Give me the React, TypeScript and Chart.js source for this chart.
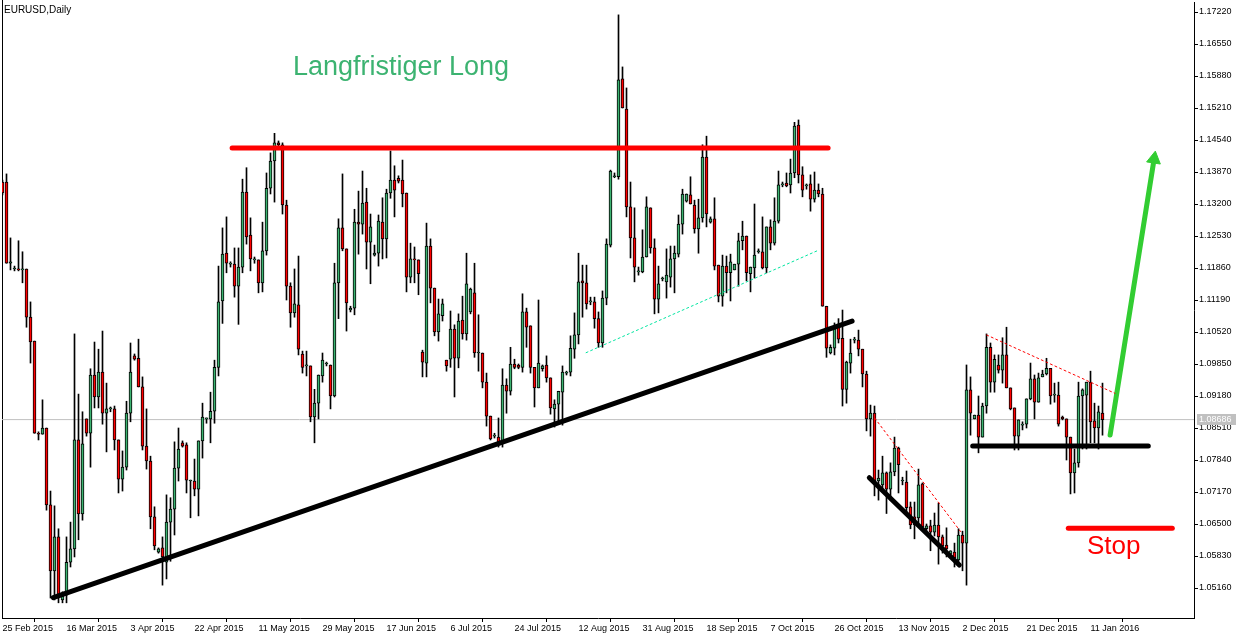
import React, { useEffect, useRef } from 'react';
import { Chart, registerables } from 'chart.js';

Chart.register(...registerables);

// ---- Daily EURUSD candles (bar 0 = 25 Feb 2015, one bar per trading day incl. Sunday bars) ----
const opens = [
  1.1366, 1.1366, 1.1196, 1.1184, 1.1184, 1.1182, 1.1184, 1.1083, 1.1033, 1.0840,
  1.0838, 1.0851, 1.0690, 1.0552, 1.0623, 1.0491, 1.0501, 1.0570, 1.0598, 1.0826,
  1.0671, 1.0870, 1.0840, 1.0962, 1.0916, 1.0968, 1.0882, 1.0891, 1.0891, 1.0826,
  1.0744, 1.0769, 1.0882, 1.1002, 1.0997, 1.0937, 1.0813, 1.0782, 1.0665, 1.0591,
  1.0600, 1.0570, 1.0654, 1.0681, 1.0767, 1.0820, 1.0816, 1.0740, 1.0740, 1.0723,
  1.0824, 1.0870, 1.0870, 1.0886, 1.0978, 1.1117, 1.1217, 1.1194, 1.1194, 1.1148,
  1.1188, 1.1345, 1.1255, 1.1203, 1.1203, 1.1155, 1.1222, 1.1353, 1.1410, 1.1448,
  1.1444, 1.1318, 1.1148, 1.1092, 1.1109, 1.1006, 1.0981, 1.0981, 1.0874, 1.0903,
  1.0960, 1.0985, 1.0983, 1.0918, 1.1155, 1.1270, 1.1226, 1.1098, 1.1102, 1.1282,
  1.1278, 1.1324, 1.1240, 1.1213, 1.1217, 1.1282, 1.1247, 1.1343, 1.1370, 1.1374,
  1.1370, 1.1343, 1.1167, 1.1205, 1.1203, 1.1010, 1.0987, 1.1232, 1.1144, 1.1052,
  1.1086, 1.0993, 1.0995, 1.1058, 1.0997, 1.1077, 1.1048, 1.1094, 1.1134, 1.1008,
  1.1008, 1.0947, 1.0876, 1.0834, 1.0832, 1.0822, 1.0941, 1.0928, 1.0985, 1.0983,
  1.0978, 1.1094, 1.1065, 1.0978, 1.0935, 1.0975, 1.0983, 1.0956, 1.0891, 1.0901,
  1.0926, 1.0966, 1.0968, 1.1016, 1.1046, 1.1159, 1.1155, 1.1115, 1.1115, 1.1080,
  1.1029, 1.1123, 1.1234, 1.1377, 1.1377, 1.1582, 1.1519, 1.1314, 1.1249, 1.1178,
  1.1178, 1.1209, 1.1312, 1.1228, 1.1121, 1.1163, 1.1157, 1.1167, 1.1205, 1.1215,
  1.1278, 1.1326, 1.1339, 1.1318, 1.1268, 1.1291, 1.1418, 1.1282, 1.1289, 1.1192,
  1.1127, 1.1190, 1.1176, 1.1182, 1.1194, 1.1243, 1.1253, 1.1174, 1.1186, 1.1220,
  1.1220, 1.1186, 1.1272, 1.1238, 1.1284, 1.1360, 1.1364, 1.1360, 1.1385, 1.1485,
  1.1381, 1.1358, 1.1362, 1.1330, 1.1349, 1.1341, 1.1106, 1.1008, 1.1018, 1.1062,
  1.1039, 1.0932, 1.0987, 1.1035, 1.1035, 1.1016, 1.0964, 1.0870, 1.0882, 1.0740,
  1.0732, 1.0757, 1.0723, 1.0759, 1.0809, 1.0740, 1.0738, 1.0686, 1.0665, 1.0663,
  1.0734, 1.0640, 1.0646, 1.0633, 1.0648, 1.0623, 1.0606, 1.0587, 1.0591, 1.0575,
  1.0627, 1.0610, 1.0931, 1.0870, 1.0878, 1.0832, 1.0897, 1.1020, 1.0947, 1.0983,
  1.0972, 1.1004, 1.0935, 1.0893, 1.0834, 1.0857, 1.0859, 1.0912, 1.0954, 1.0905,
  1.0958, 1.0964, 1.0976, 1.0920, 1.0920, 1.0874, 1.0870, 1.0832, 1.0757, 1.0778,
  1.0918, 1.0920, 1.0947, 1.0866, 1.0851, 1.0882,
];

const highs = [
  1.1370, 1.1383, 1.1249, 1.1190, 1.1243, 1.1220, 1.1184, 1.1115, 1.1033, 1.0843,
  1.0910, 1.0851, 1.0719, 1.0688, 1.0640, 1.0508, 1.0623, 1.0654, 1.1048, 1.0922,
  1.0885, 1.0870, 1.0975, 1.1031, 1.1016, 1.1054, 1.0945, 1.0895, 1.0897, 1.0826,
  1.0803, 1.0907, 1.1029, 1.1006, 1.1037, 1.0958, 1.0891, 1.0792, 1.0686, 1.0600,
  1.0623, 1.0711, 1.0705, 1.0822, 1.0851, 1.0824, 1.0820, 1.0742, 1.0786, 1.0824,
  1.0903, 1.0872, 1.0926, 1.0993, 1.1190, 1.1270, 1.1293, 1.1199, 1.1228, 1.1228,
  1.1372, 1.1396, 1.1291, 1.1209, 1.1203, 1.1282, 1.1385, 1.1427, 1.1468, 1.1452,
  1.1448, 1.1328, 1.1155, 1.1184, 1.1211, 1.1012, 1.1012, 1.0981, 1.0932, 1.0962,
  1.1008, 1.0989, 1.0983, 1.1196, 1.1289, 1.1383, 1.1226, 1.1106, 1.1309, 1.1347,
  1.1389, 1.1353, 1.1299, 1.1234, 1.1297, 1.1333, 1.1351, 1.1431, 1.1400, 1.1379,
  1.1412, 1.1343, 1.1238, 1.1230, 1.1203, 1.1014, 1.1280, 1.1247, 1.1144, 1.1121,
  1.1121, 1.0993, 1.1096, 1.1067, 1.1090, 1.1127, 1.1217, 1.1144, 1.1196, 1.1088,
  1.1008, 1.0966, 1.0876, 1.0840, 1.0872, 1.0975, 1.0954, 1.1020, 1.0995, 1.0985,
  1.1132, 1.1102, 1.1065, 1.0978, 1.1119, 1.0983, 1.1002, 1.0956, 1.0910, 1.0928,
  1.0981, 1.0970, 1.1044, 1.1092, 1.1217, 1.1192, 1.1192, 1.1125, 1.1125, 1.1094,
  1.1138, 1.1247, 1.1391, 1.1385, 1.1716, 1.1607, 1.1563, 1.1366, 1.1312, 1.1188,
  1.1266, 1.1335, 1.1312, 1.1247, 1.1190, 1.1167, 1.1226, 1.1232, 1.1232, 1.1297,
  1.1351, 1.1341, 1.1377, 1.1328, 1.1330, 1.1444, 1.1462, 1.1293, 1.1333, 1.1192,
  1.1213, 1.1211, 1.1215, 1.1194, 1.1259, 1.1284, 1.1253, 1.1188, 1.1320, 1.1226,
  1.1293, 1.1272, 1.1287, 1.1333, 1.1389, 1.1366, 1.1385, 1.1414, 1.1491, 1.1496,
  1.1398, 1.1362, 1.1381, 1.1387, 1.1362, 1.1353, 1.1106, 1.1025, 1.1071, 1.1080,
  1.1098, 1.0991, 1.1037, 1.1041, 1.1056, 1.1016, 1.0970, 1.0899, 1.0897, 1.0763,
  1.0792, 1.0759, 1.0778, 1.0832, 1.0811, 1.0748, 1.0761, 1.0696, 1.0696, 1.0765,
  1.0736, 1.0650, 1.0658, 1.0673, 1.0694, 1.0627, 1.0642, 1.0594, 1.0610, 1.0640,
  1.0635, 1.0983, 1.0958, 1.0878, 1.0918, 1.0903, 1.1048, 1.1029, 1.1004, 1.1004,
  1.1040, 1.1062, 1.0935, 1.0893, 1.0868, 1.0864, 1.0912, 1.0987, 1.0962, 1.0966,
  1.0972, 1.0997, 1.0976, 1.0945, 1.0947, 1.0876, 1.0870, 1.0832, 1.0807, 1.0947,
  1.0933, 1.0947, 1.0970, 1.0903, 1.0897, 1.0945,
];

const lows = [
  1.1339, 1.1196, 1.1182, 1.1180, 1.1180, 1.1155, 1.1062, 1.0987, 1.0840, 1.0826,
  1.0838, 1.0679, 1.0495, 1.0491, 1.0485, 1.0485, 1.0485, 1.0560, 1.0581, 1.0617,
  1.0658, 1.0834, 1.0769, 1.0893, 1.0893, 1.0859, 1.0801, 1.0885, 1.0805, 1.0715,
  1.0719, 1.0763, 1.0864, 1.0993, 1.0937, 1.0805, 1.0765, 1.0640, 1.0596, 1.0589,
  1.0522, 1.0535, 1.0572, 1.0627, 1.0740, 1.0811, 1.0715, 1.0663, 1.0709, 1.0667,
  1.0788, 1.0861, 1.0820, 1.0861, 1.0960, 1.1070, 1.1176, 1.1188, 1.1125, 1.1068,
  1.1176, 1.1236, 1.1180, 1.1196, 1.1134, 1.1136, 1.1213, 1.1341, 1.1324, 1.1439,
  1.1299, 1.1119, 1.1062, 1.1083, 1.1004, 1.0966, 1.0960, 1.0864, 1.0820, 1.0870,
  1.0947, 1.0981, 1.0891, 1.0916, 1.1080, 1.1222, 1.1054, 1.1094, 1.1088, 1.1215,
  1.1257, 1.1184, 1.1153, 1.1211, 1.1190, 1.1205, 1.1207, 1.1332, 1.1293, 1.1364,
  1.1314, 1.1136, 1.1155, 1.1155, 1.1130, 1.0958, 1.0958, 1.1113, 1.1044, 1.1033,
  1.1075, 1.0970, 1.0978, 1.0916, 1.0977, 1.1037, 1.1035, 1.1090, 1.0999, 1.0970,
  1.0935, 1.0855, 1.0826, 1.0830, 1.0811, 1.0811, 1.0882, 1.0920, 1.0975, 1.0975,
  1.0968, 1.1020, 1.0966, 1.0895, 1.0935, 1.0970, 1.0947, 1.0880, 1.0853, 1.0859,
  1.0857, 1.0962, 1.0960, 1.0997, 1.1027, 1.1083, 1.1100, 1.1109, 1.1060, 1.1020,
  1.1020, 1.1109, 1.1230, 1.1375, 1.1372, 1.1521, 1.1293, 1.1207, 1.1157, 1.1171,
  1.1176, 1.1209, 1.1217, 1.1090, 1.1092, 1.1159, 1.1123, 1.1146, 1.1134, 1.1209,
  1.1257, 1.1324, 1.1320, 1.1259, 1.1217, 1.1282, 1.1272, 1.1280, 1.1182, 1.1115,
  1.1106, 1.1134, 1.1117, 1.1182, 1.1148, 1.1224, 1.1159, 1.1136, 1.1165, 1.1217,
  1.1184, 1.1176, 1.1224, 1.1234, 1.1280, 1.1356, 1.1356, 1.1343, 1.1375, 1.1364,
  1.1335, 1.1351, 1.1305, 1.1324, 1.1335, 1.1106, 1.0999, 1.1006, 1.1004, 1.1029,
  1.0897, 1.0903, 1.0966, 1.1029, 1.1002, 1.0937, 1.0845, 1.0834, 1.0709, 1.0700,
  1.0723, 1.0672, 1.0700, 1.0751, 1.0715, 1.0732, 1.0673, 1.0640, 1.0619, 1.0652,
  1.0642, 1.0635, 1.0594, 1.0625, 1.0566, 1.0589, 1.0581, 1.0583, 1.0560, 1.0562,
  1.0552, 1.0522, 1.0836, 1.0870, 1.0799, 1.0832, 1.0882, 1.0926, 1.0926, 1.0966,
  1.0945, 1.0935, 1.0889, 1.0805, 1.0805, 1.0847, 1.0851, 1.0910, 1.0870, 1.0905,
  1.0958, 1.0962, 1.0901, 1.0905, 1.0855, 1.0868, 1.0784, 1.0713, 1.0715, 1.0769,
  1.0807, 1.0807, 1.0820, 1.0820, 1.0807, 1.0836,
];

const closes = [
  1.1343, 1.1196, 1.1199, 1.1184, 1.1182, 1.1184, 1.1083, 1.1031, 1.0840, 1.0838,
  1.0851, 1.0690, 1.0552, 1.0623, 1.0501, 1.0499, 1.0570, 1.0598, 1.0826, 1.0671,
  1.0818, 1.0840, 1.0962, 1.0916, 1.0968, 1.0882, 1.0891, 1.0891, 1.0826, 1.0744,
  1.0769, 1.0882, 1.0968, 1.0995, 1.0937, 1.0813, 1.0782, 1.0665, 1.0604, 1.0598,
  1.0581, 1.0654, 1.0681, 1.0767, 1.0807, 1.0813, 1.0742, 1.0740, 1.0723, 1.0824,
  1.0874, 1.0870, 1.0886, 1.0978, 1.1115, 1.1215, 1.1196, 1.1194, 1.1148, 1.1188,
  1.1345, 1.1251, 1.1205, 1.1203, 1.1155, 1.1222, 1.1353, 1.1410, 1.1448, 1.1444,
  1.1318, 1.1148, 1.1092, 1.1111, 1.1016, 1.0978, 1.0981, 1.0874, 1.0903, 1.0962,
  1.0993, 1.0985, 1.0918, 1.1155, 1.1270, 1.1226, 1.1113, 1.1102, 1.1282, 1.1278,
  1.1322, 1.1240, 1.1272, 1.1217, 1.1284, 1.1247, 1.1343, 1.1370, 1.1349, 1.1368,
  1.1341, 1.1167, 1.1205, 1.1203, 1.1174, 1.0989, 1.1232, 1.1144, 1.1052, 1.1090,
  1.1111, 1.0981, 1.1058, 1.0997, 1.1075, 1.1048, 1.1153, 1.1142, 1.1008, 1.1008,
  1.0947, 1.0876, 1.0828, 1.0834, 1.0822, 1.0941, 1.0928, 1.0985, 1.0978, 1.0978,
  1.1094, 1.1062, 1.0978, 1.0935, 1.0987, 1.0981, 1.0956, 1.0893, 1.0901, 1.0928,
  1.0968, 1.0966, 1.1018, 1.1046, 1.1157, 1.1155, 1.1111, 1.1115, 1.1080, 1.1029,
  1.1123, 1.1236, 1.1389, 1.1377, 1.1580, 1.1521, 1.1314, 1.1249, 1.1188, 1.1178,
  1.1209, 1.1314, 1.1228, 1.1121, 1.1153, 1.1165, 1.1171, 1.1205, 1.1217, 1.1278,
  1.1341, 1.1341, 1.1320, 1.1268, 1.1291, 1.1418, 1.1299, 1.1289, 1.1190, 1.1127,
  1.1190, 1.1176, 1.1199, 1.1194, 1.1243, 1.1253, 1.1176, 1.1188, 1.1213, 1.1220,
  1.1186, 1.1272, 1.1238, 1.1284, 1.1360, 1.1360, 1.1358, 1.1385, 1.1483, 1.1381,
  1.1349, 1.1358, 1.1330, 1.1349, 1.1341, 1.1106, 1.1018, 1.1020, 1.1060, 1.1037,
  1.0932, 1.0989, 1.1008, 1.1035, 1.1016, 1.0964, 1.0870, 1.0882, 1.0740, 1.0746,
  1.0757, 1.0723, 1.0759, 1.0809, 1.0774, 1.0740, 1.0684, 1.0648, 1.0648, 1.0732,
  1.0644, 1.0646, 1.0633, 1.0648, 1.0623, 1.0604, 1.0598, 1.0594, 1.0579, 1.0627,
  1.0610, 1.0931, 1.0882, 1.0878, 1.0832, 1.0897, 1.1020, 1.0947, 1.0995, 1.0972,
  1.1004, 1.0935, 1.0891, 1.0834, 1.0868, 1.0857, 1.0912, 1.0954, 1.0905, 1.0956,
  1.0964, 1.0976, 1.0918, 1.0920, 1.0859, 1.0870, 1.0832, 1.0757, 1.0778, 1.0918,
  1.0931, 1.0947, 1.0864, 1.0851, 1.0885, 1.08686,
];

// ---- axis ticks ----
const dateTickBars = [0, 16, 32, 48, 64, 80, 96, 112, 128, 144, 160, 176, 192, 208, 224, 240, 256, 272];
const dateLabels = [
  '25 Feb 2015', '16 Mar 2015', '3 Apr 2015', '22 Apr 2015', '11 May 2015', '29 May 2015',
  '17 Jun 2015', '6 Jul 2015', '24 Jul 2015', '12 Aug 2015', '31 Aug 2015', '18 Sep 2015',
  '7 Oct 2015', '26 Oct 2015', '13 Nov 2015', '2 Dec 2015', '21 Dec 2015', '11 Jan 2016',
];
const priceTicks = [
  1.0516, 1.0583, 1.065, 1.0717, 1.0784, 1.0851, 1.0918, 1.0985, 1.1052, 1.1119,
  1.1186, 1.1253, 1.132, 1.1387, 1.1454, 1.1521, 1.1588, 1.1655, 1.1722,
];
const lastPrice = 1.08686;
const symbolTitle = 'EURUSD,Daily';

// ---- drawn objects (bar index, price) ----
const resistanceLine = [[57.4, 1.1437], [206.4, 1.1437]];
const longTrendLine = [[12.7, 1.04957], [212.4, 1.1075]];
const shortTrendLine = [[216.7, 1.07469], [239.2, 1.05642]];
const supportLine = [[242.55, 1.08133], [286.45, 1.08133]];
const stopLine = [[266.45, 1.0641], [292.45, 1.0641]];
const targetArrow = [[276.9, 1.08363], [287.9, 1.14142]];
const channelDotted = [[145.9, 1.10087], [203.55, 1.12216]];
const fallDotted = [[218.1, 1.08713], [239.55, 1.06339]];
const flagDotted = [[246.05, 1.10457], [278.1, 1.09237]];
const headline = { text: 'Langfristiger Long', x: 72.6, y: 1.16047 };
const stopText = { text: 'Stop', x: 271.1, y: 1.06018 };

const BULL = '#3cb371';
const BEAR = '#ff0000';
const FONT = '"Liberation Sans", Arial, sans-serif';

export default function App() {
  const ref = useRef<HTMLCanvasElement | null>(null);

  useEffect(() => {
    document.body.style.margin = '0';
    const canvas = ref.current;
    if (!canvas) return;

    const idx = opens.map((_, i) => i);
    const wickData = idx.map((i) => ({ x: i, y: [lows[i], highs[i]] }));
    const bodyData = idx.map((i) => ({ x: i, y: [opens[i], closes[i]] }));
    const bodyColors = idx.map((i) => (closes[i] >= opens[i] ? BULL : BEAR));

    const seg = (pts: number[][], color: string, width: number, dash: number[] = [], order = 0) => ({
      type: 'line' as const,
      data: pts.map((p) => ({ x: p[0], y: p[1] })),
      borderColor: color,
      backgroundColor: color,
      borderWidth: width,
      borderDash: dash,
      borderCapStyle: 'round' as const,
      pointRadius: 0,
      fill: false,
      tension: 0,
      order,
    });

    const overlay = {
      id: 'overlay',
      beforeDatasetsDraw(chart: any) {
        const { ctx, chartArea } = chart;
        ctx.save();
        ctx.strokeStyle = '#000';
        ctx.lineWidth = 1;
        ctx.beginPath();
        ctx.moveTo(chartArea.left + 0.5, 0);
        ctx.lineTo(chartArea.left + 0.5, chartArea.bottom);
        ctx.stroke();
        ctx.restore();
      },
      afterDatasetsDraw(chart: any) {
        const { ctx, scales } = chart;
        const xs = scales.x;
        const ys = scales.y;
        ctx.save();
        ctx.textAlign = 'left';
        ctx.textBaseline = 'middle';
        ctx.font = `27px ${FONT}`;
        ctx.fillStyle = BULL;
        ctx.fillText(headline.text, xs.getPixelForValue(headline.x), ys.getPixelForValue(headline.y));
        ctx.font = `26px ${FONT}`;
        ctx.fillStyle = '#ff0000';
        ctx.fillText(stopText.text, xs.getPixelForValue(stopText.x), ys.getPixelForValue(stopText.y));
        ctx.restore();
      },
      afterDraw(chart: any) {
        const { ctx, scales, chartArea } = chart;
        const ys = scales.y;
        ctx.save();
        ctx.font = `10px ${FONT}`;
        ctx.fillStyle = '#000';
        ctx.textAlign = 'left';
        ctx.textBaseline = 'middle';
        ctx.fillText(symbolTitle, chartArea.left + 2, 10);
        const py = ys.getPixelForValue(lastPrice);
        ctx.fillStyle = '#c0c0c0';
        ctx.fillRect(chartArea.right + 3, Math.round(py) - 6, 39, 11);
        ctx.fillStyle = '#ffffff';
        ctx.font = `9px ${FONT}`;
        ctx.fillText(lastPrice.toFixed(5), chartArea.right + 5, Math.round(py) - 0.5);
        ctx.restore();
      },
    };

    const chart = new Chart(canvas, {
      type: 'bar',
      data: {
        datasets: [
          seg([[-1, lastPrice], [300, lastPrice]], '#c0c0c0', 1, [], 5) as any,
          {
            type: 'bar',
            data: wickData as any,
            backgroundColor: '#000',
            barThickness: 1,
            grouped: false,
            borderWidth: 0,
            order: 4,
          },
          {
            type: 'bar',
            data: bodyData as any,
            backgroundColor: bodyColors,
            borderColor: '#000',
            borderWidth: 1,
            borderSkipped: false,
            barThickness: 3,
            minBarLength: 1,
            grouped: false,
            order: 3,
          },
          seg(channelDotted, '#00e5a0', 1, [2, 3]) as any,
          seg(fallDotted, '#ff0000', 1, [2, 3]) as any,
          seg(flagDotted, '#ff0000', 1, [2, 3]) as any,
          seg(resistanceLine, '#ff0000', 5) as any,
          seg(longTrendLine, '#000000', 5) as any,
          seg(shortTrendLine, '#000000', 5) as any,
          seg(supportLine, '#000000', 5) as any,
          seg(stopLine, '#ff0000', 5) as any,
          {
            ...seg(targetArrow, '#32cd32', 5),
            pointRadius: [0, 8],
            pointStyle: 'triangle',
            rotation: 9,
            pointBackgroundColor: '#32cd32',
            pointBorderColor: '#32cd32',
            pointBorderWidth: 1,
          } as any,
        ],
      },
      options: {
        responsive: false,
        maintainAspectRatio: false,
        animation: false,
        events: [],
        layout: { autoPadding: false, padding: { left: 2, top: 2, right: 0, bottom: 0 } },
        plugins: { legend: { display: false }, tooltip: { enabled: false } },
        scales: {
          x: {
            type: 'linear',
            min: -0.125,
            max: 297.875,
            offset: false,
            grid: { drawOnChartArea: false, drawTicks: true, tickLength: 4, color: '#000' },
            border: { color: '#000', width: 1 },
            afterBuildTicks: (scale: any) => {
              scale.ticks = dateTickBars.map((v) => ({ value: v }));
            },
            afterFit: (scale: any) => {
              scale.height = 21;
              scale.paddingLeft = 0;
              scale.paddingRight = 0;
            },
            ticks: {
              autoSkip: false,
              maxRotation: 0,
              minRotation: 0,
              align: 'start',
              padding: 1,
              color: '#000',
              font: { family: FONT, size: 9 },
              callback: (v: any) => {
                const k = dateTickBars.indexOf(Number(v));
                return k >= 0 ? dateLabels[k] : '';
              },
            },
          },
          y: {
            type: 'linear',
            position: 'right',
            min: 1.04532,
            max: 1.174294,
            grid: { drawOnChartArea: false, drawTicks: true, tickLength: 4, color: '#000' },
            border: { color: '#000', width: 1 },
            afterBuildTicks: (scale: any) => {
              scale.ticks = priceTicks.map((v) => ({ value: v }));
            },
            afterFit: (scale: any) => {
              scale.width = 53;
              scale.paddingTop = 0;
              scale.paddingBottom = 0;
            },
            ticks: {
              padding: 1,
              color: '#000',
              font: { family: FONT, size: 9 },
              callback: (v: any) => Number(v).toFixed(5),
            },
          },
        },
      },
      plugins: [overlay],
    });

    return () => chart.destroy();
  }, []);

  return (
    <div style={{ width: 1247, height: 639, background: '#fff' }}>
      <canvas ref={ref} width={1247} height={639} style={{ display: 'block' }} />
    </div>
  );
}
